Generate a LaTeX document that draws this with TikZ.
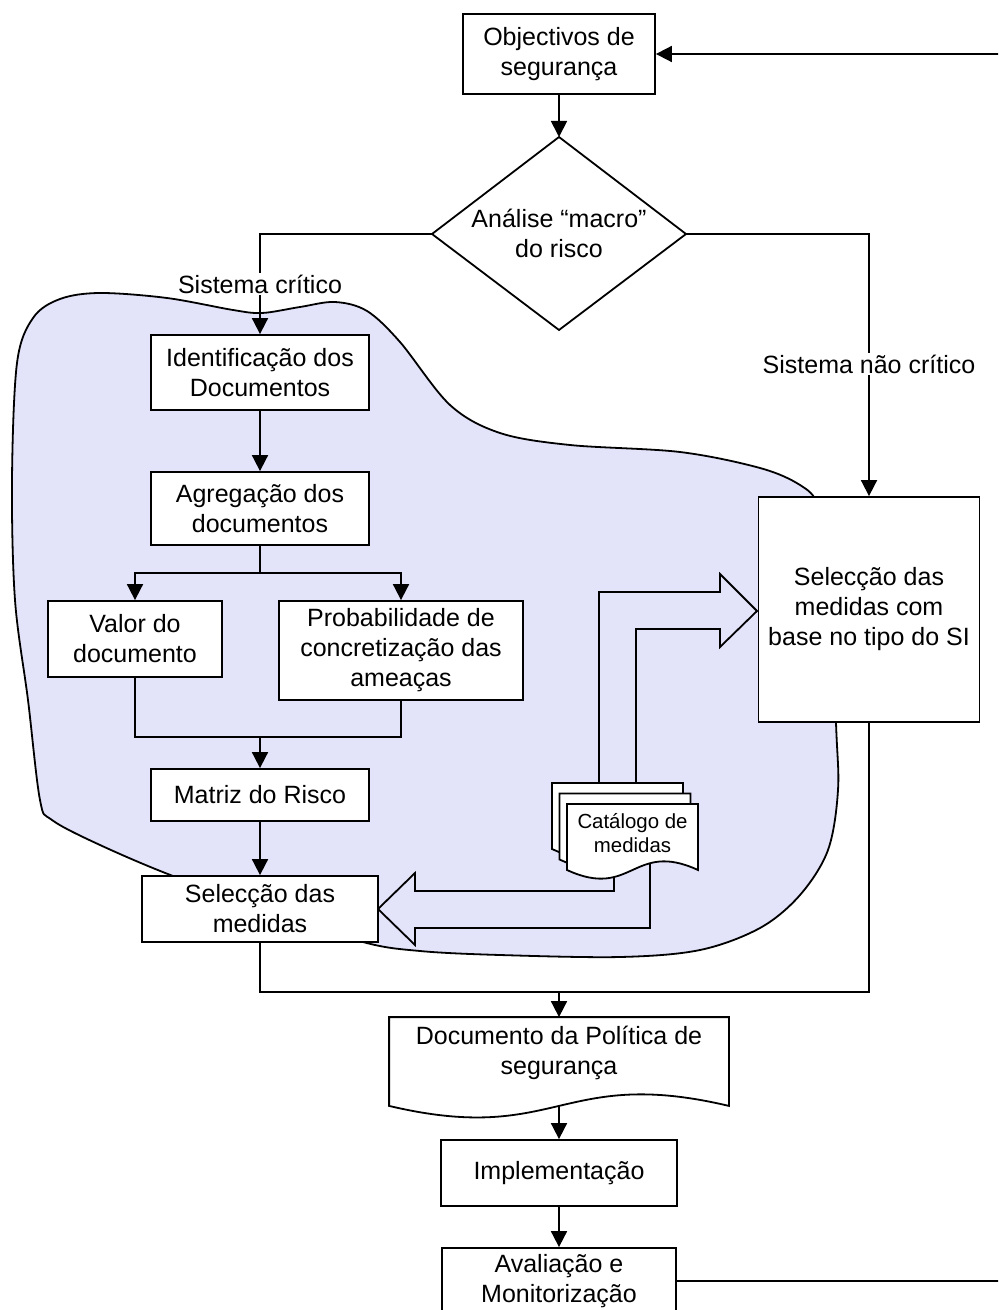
\documentclass[tikz,border=0pt]{standalone}
\usepackage{fontspec}
\setmainfont{Liberation Sans}
\usetikzlibrary{arrows.meta,calc}
\definecolor{blobfill}{RGB}{227,227,250}
\begin{document}
\begin{tikzpicture}[x=0.5pt,y=-0.5pt,
  line width=0.9pt,
  every node/.style={font=\fontsize{12.5}{15}\selectfont},
  box/.style={draw, fill=white, align=center, inner sep=0pt},
  lbl/.style={fill=white, inner sep=1pt},
  arr/.style={-{Triangle[length=8pt,width=8pt]}},
  pics/docpage/.style={code={
    \draw[fill=white] (0,0) -- (131,0) -- (131,66)
      .. controls +(-65,-30) and +(65,30) .. (0,66) -- cycle;}}
]
\clip (0,0) rectangle (998,1310);

% shaded region of the detailed risk analysis
\draw[fill=blobfill] plot[smooth cycle, tension=0.55] coordinates {
  (17,363) (33,318) (60,299) (100,293) (167,298) (233,310) (262,313)
  (300,307) (335,302) (367,311) (400,342) (450,405) (500,433) (570,445)
  (680,452) (760,468) (800,485) (818,505) (830,560) (836,723) (838,790)
  (828,850) (800,895) (760,928) (700,950) (620,957) (500,955) (420,951)
  (363,942) (270,910) (173,876) (100,845) (52,820) (40,800) (28,700)
  (15,600) (12,480)};

% decision diamond
\coordinate (diaT) at (559,137);
\coordinate (diaR) at (686,234);
\coordinate (diaB) at (559,330);
\coordinate (diaL) at (432,234);
\draw[fill=white] (diaT) -- (diaR) -- (diaB) -- (diaL) -- cycle;
\node[align=center] (dia) at (559,233) {Análise “macro”\\do risco};

% block arrows out of the catalogue
\draw (599,800) -- (599,592) -- (720,592) -- (720,574) -- (757,611)
  -- (720,647) -- (720,629) -- (636,629) -- (636,800);
\draw (614,850) -- (614,891) -- (415,891) -- (415,873) -- (378,909)
  -- (415,945) -- (415,928) -- (650,928) -- (650,850);

% catalogue: stack of pages
\pic at (552,783) {docpage};
\pic at (559.5,793.5) {docpage};
\pic at (567,804) {docpage};
\node[align=center, inner sep=0pt, font=\fontsize{10.2}{11.7}\selectfont]
  (cat) at (632.5,833) {Catálogo de\\medidas};

% process boxes
\node[box, minimum width=96pt, minimum height=40pt] (obj) at (559,54) {Objectivos de\\segurança};
\node[box, minimum width=109pt, minimum height=37.5pt] (ident) at (260,372.5) {Identificação dos\\Documentos};
\node[box, minimum width=109pt, minimum height=36.5pt] (agreg) at (260,508.5) {Agregação dos\\documentos};
\node[box, minimum width=87pt, minimum height=38pt] (valor) at (135,639) {Valor do\\documento};
\node[box, minimum width=122pt, minimum height=49.5pt] (prob) at (401,650.5) {Probabilidade de\\concretização das\\ameaças};
\node[box, minimum width=109pt, minimum height=26pt] (matriz) at (260,795) {Matriz do Risco};
\node[box, minimum width=118pt, minimum height=33pt] (selM) at (260,909) {Selecção das\\medidas};
\node[box, minimum width=110.5pt, minimum height=112.5pt] (selR) at (869,609.5) {Selecção das\\medidas com\\base no tipo do SI};
\node[align=center, inner sep=0pt, minimum width=169pt, minimum height=35pt] (doc) at (559,1053) {Documento da Política de\\segurança};
\draw (doc.north west) -- (doc.north east) -- ($(doc.south east)+(0,17)$)
  .. controls +(-169,-40) and +(169,40) .. ($(doc.south west)+(0,17)$) -- cycle;
\node[box, minimum width=118pt, minimum height=33pt] (impl) at (559,1173) {Implementação};
\node[box, minimum width=117pt, minimum height=33pt] (aval) at (559,1281) {Avaliação e\\Monitorização};

% connectors
\draw[arr] (obj.south) -- (diaT);
\draw[arr] (diaL) -| (ident.north);
\node[lbl] (lblC) at (260,284) {Sistema crítico};
\draw[arr] (diaR) -| (selR.north);
\node[lbl] (lblN) at (869,364) {Sistema não crítico};
\draw[arr] (ident.south) -- (agreg.north);
\coordinate (sp) at (260,573);
\draw (agreg.south) -- (sp);
\draw[arr] (sp) -| (valor.north);
\draw[arr] (sp) -| (prob.north);
\coordinate (jn) at (260,737);
\draw (valor.south) |- (jn) -| (prob.south);
\draw[arr] (jn) -- (matriz.north);
\draw[arr] (matriz.south) -- (selM.north);
\coordinate (jn2) at (559,992);
\draw (selM.south) |- (jn2) -| (selR.south);
\draw[arr] (jn2) -- (doc.north);
\draw[arr] ($(doc.south)+(0,17)$) -- (impl.north);
\draw[arr] (impl.south) -- (aval.north);
\coordinate (loopR) at (1020,1281);
\draw[arr] (aval.east) -- (loopR) |- (obj.east);
\end{tikzpicture}
\end{document}
